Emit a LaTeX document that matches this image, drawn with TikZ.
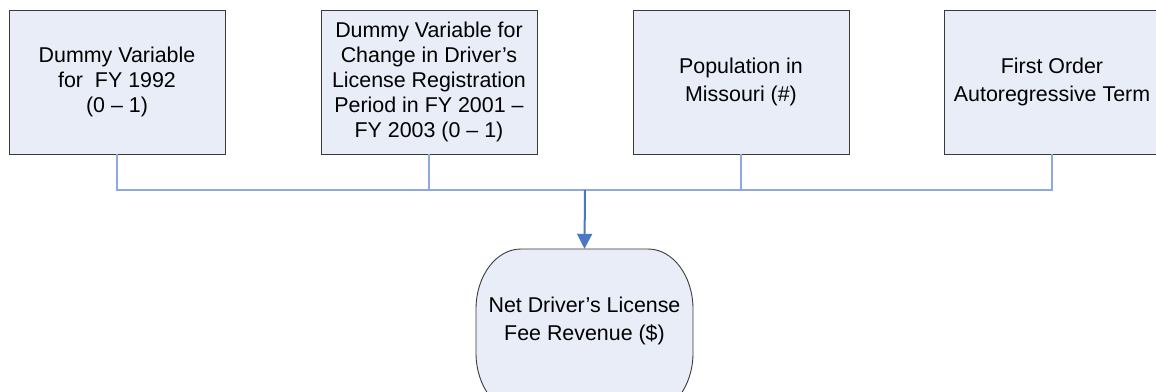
\documentclass[tikz,border=0pt]{standalone}
\usepackage{fontspec}
\setmainfont{Liberation Sans}
\usetikzlibrary{arrows.meta}
\definecolor{boxfill}{HTML}{E8EDF7}
\definecolor{boxline}{HTML}{3A3A3A}
\definecolor{busline}{HTML}{8EAADB}
\definecolor{arrline}{HTML}{4A78C4}
\tikzset{
  inbox/.style={draw=boxline, line width=0.9pt, fill=boxfill, rectangle,
    minimum width=216pt, minimum height=144pt, inner sep=0pt, align=center,
    font=\fontsize{21.4}{25}\selectfont},
  wide/.style={font=\fontsize{21.4}{27.5}\selectfont},
  outbox/.style={draw=none, rectangle, minimum width=217pt, minimum height=144pt,
    inner sep=0pt, align=center, font=\fontsize{21.4}{28}\selectfont},
  busconn/.style={draw=busline, line width=1.2pt},
  mainarrow/.style={draw=arrline, line width=2pt, -{Triangle[width=15pt,length=15pt]}}
}
\begin{document}
\begin{tikzpicture}[x=1pt,y=1pt]
\useasboundingbox (0,0) rectangle (1156,391);
\clip (0,0) rectangle (1156,391);
% input boxes
\node[inbox] (b1) at (117,309) {Dummy Variable\\for \ FY 1992\\(0 -- 1)};
\node[inbox] (b2) at (429,309) {Dummy Variable for\\Change in Driver’s\\License Registration\\Period in FY 2001 --\\FY 2003 (0 -- 1)};
\node[inbox, wide] (b3) at (741,309) {Population in\\Missouri (\#)};
\node[inbox, wide] (b4) at (1052,309) {First Order\\Autoregressive Term};
% terminator outline with elliptical corners
\fill[boxfill] (521,142) -- (648,142) arc[start angle=90,end angle=0,x radius=45,y radius=60]
  -- (693,38) arc[start angle=0,end angle=-90,x radius=45,y radius=60]
  -- (521,-22) arc[start angle=270,end angle=180,x radius=45,y radius=60]
  -- (476,82) arc[start angle=180,end angle=90,x radius=45,y radius=60] -- cycle;
\draw[boxline, line width=0.9pt] (521,142) -- (648,142) arc[start angle=90,end angle=0,x radius=45,y radius=60]
  -- (693,38) arc[start angle=0,end angle=-90,x radius=45,y radius=60]
  -- (521,-22) arc[start angle=270,end angle=180,x radius=45,y radius=60]
  -- (476,82) arc[start angle=180,end angle=90,x radius=45,y radius=60] -- cycle;
\node[outbox] (rev) at (584.5,70) {Net Driver’s License\\Fee Revenue (\$)};
% connectors
\coordinate (bus) at (585,201);
\draw[busconn] (b1.south) |- (bus);
\draw[busconn] (b2.south) |- (bus);
\draw[busconn] (b3.south) |- (bus);
\draw[busconn] (b4.south) |- (bus);
\draw[mainarrow] (bus) -- (rev.north);
\end{tikzpicture}
\end{document}
